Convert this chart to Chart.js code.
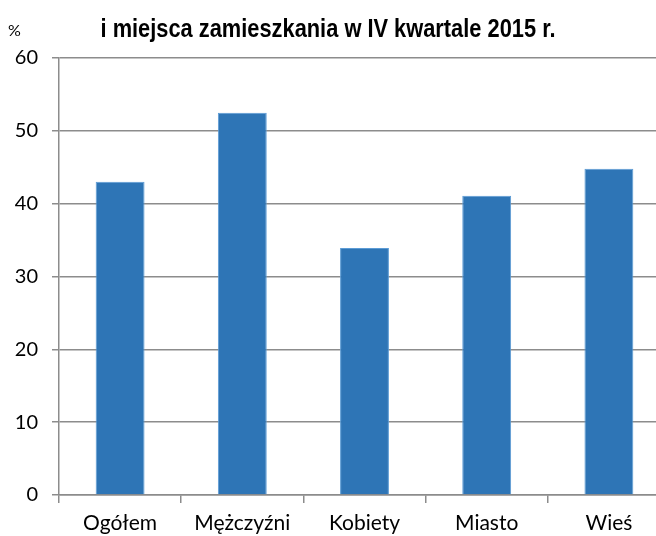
<!DOCTYPE html>
<html>
<head>
<meta charset="utf-8">
<script src="https://cdn.jsdelivr.net/npm/chart.js@4"></script>
<style>
  html, body { margin: 0; padding: 0; background: #fff; overflow: hidden; }
  #wrap { width: 670px; height: 536px; }
</style>
</head>
<body>
<div id="wrap"><canvas id="chart"></canvas></div>
<script>
// data
const categories = ['Ogółem', 'Mężczyźni', 'Kobiety', 'Miasto', 'Wieś'];
const values = [43.0, 52.5, 33.9, 41.1, 44.8];
const titleText = 'i miejsca zamieszkania w IV kwartale 2015 r.';
const unitText = '%';

const gridGray = '#8c8c8c';
const baseFamily = 'Lato, "Open Sans", sans-serif';

// title (condensed by horizontal scaling) and unit label
const headerPlugin = {
  id: 'header',
  afterDraw: (chart) => {
    const ctx = chart.ctx;
    ctx.save();
    ctx.fillStyle = '#000';
    ctx.textBaseline = 'middle';
    ctx.textAlign = 'center';
    ctx.font = 'bold 25px "Liberation Sans", sans-serif';
    const w = ctx.measureText(titleText).width;
    const sx = 455 / w;
    ctx.translate(328, 30);
    ctx.scale(sx, 1);
    ctx.fillText(titleText, 0, 0);
    ctx.restore();

    ctx.save();
    ctx.fillStyle = '#000';
    ctx.textBaseline = 'middle';
    ctx.textAlign = 'left';
    ctx.font = '16px ' + baseFamily;
    ctx.fillText(unitText, 8, 31);
    ctx.restore();
  }
};

const ctx = document.getElementById('chart').getContext('2d');
new Chart(ctx, {
  type: 'bar',
  data: {
    labels: categories,
    datasets: [{
      data: values,
      backgroundColor: '#2e75b6',
      borderColor: '#5b9bd5',
      borderWidth: 1,
      barPercentage: 0.8,
      categoryPercentage: 0.5
    }]
  },
  options: {
    responsive: true,
    maintainAspectRatio: false,
    animation: false,
    layout: { padding: { top: 58, right: 0, bottom: 0, left: 0 } },
    plugins: { legend: { display: false }, tooltip: { enabled: false } },
    scales: {
      x: {
        grid: { offset: true, drawOnChartArea: false, color: gridGray, tickLength: 8, lineWidth: 1.5 },
        border: { color: gridGray, width: 1.5 },
        ticks: { color: '#000', font: { family: baseFamily, size: 21 }, padding: 8, maxRotation: 0 },
        afterFit: (scale) => { scale.height = 41; }
      },
      y: {
        min: 0,
        max: 60,
        ticks: { stepSize: 10, color: '#000', font: { family: baseFamily, size: 20 }, padding: 14 },
        grid: { color: gridGray, tickLength: 7, lineWidth: 1.5 },
        border: { color: gridGray, width: 1.5 },
        afterFit: (scale) => { scale.width = 59; }
      }
    }
  },
  plugins: [headerPlugin]
});
</script>
</body>
</html>
